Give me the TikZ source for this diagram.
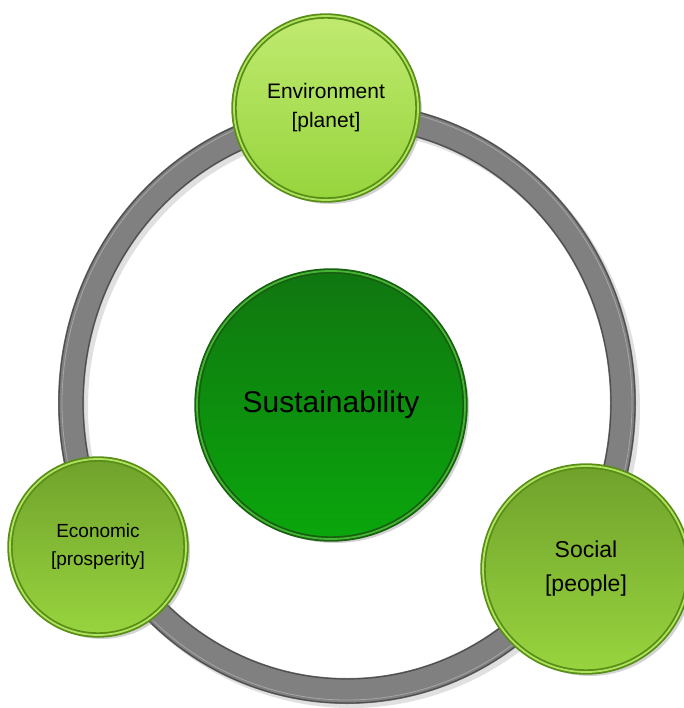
\documentclass[tikz,border=0pt]{standalone}
\usepackage{fontspec}
\setmainfont{Liberation Sans}
\usetikzlibrary{shadows}

\definecolor{ringgray}{RGB}{128,128,128}
\definecolor{ringedge}{RGB}{78,78,78}
\definecolor{envtop}{RGB}{192,234,112}
\definecolor{envbot}{RGB}{150,212,60}
\definecolor{sidetop}{RGB}{112,162,44}
\definecolor{sidebot}{RGB}{152,212,62}
\definecolor{limerim}{RGB}{88,142,22}
\definecolor{limeglow}{RGB}{176,226,96}
\definecolor{coretop}{RGB}{16,118,16}
\definecolor{corebot}{RGB}{10,166,12}
\definecolor{corerim}{RGB}{22,96,16}
\definecolor{coreglow}{RGB}{70,180,52}

\begin{document}
\begin{tikzpicture}[x=1pt, y=-1pt]

  % Styles
  \tikzset{
    disc/.style={circle, inner sep=0pt, align=center, text=black,
      draw=limerim, line width=1.8pt, double=limeglow, double distance=1.8pt,
      drop shadow={shadow xshift=4pt, shadow yshift=-4pt, opacity=0.35}},
    pillar/.style={disc, top color=sidetop, bottom color=sidebot,
      font=\fontsize{19}{28}\selectfont},
    core/.style={disc, draw=corerim, double=coreglow,
      top color=coretop, bottom color=corebot,
      font=\fontsize{30}{36}\selectfont}
  }

  \useasboundingbox (0,0) rectangle (683,708);

  % --- THE GREY RING ---
  \coordinate (ringc) at (347,403);
  \draw[line width=26pt, black!12] ([shift={(4,4)}]ringc) ellipse [x radius=276, y radius=288];
  \draw[line width=26pt, ringgray] (ringc) ellipse [x radius=276, y radius=288];
  \draw[line width=1.2pt, ringedge] (ringc) ellipse [x radius=288, y radius=300];
  \draw[line width=1.2pt, ringedge] (ringc) ellipse [x radius=264, y radius=276];
  \draw[line width=0.8pt, black!35] (ringc) ellipse [x radius=285, y radius=297];

  % --- CENTRE ---
  \node[core, minimum size=268pt] (sust) at (331,405) {Sustainability};

  % --- THE THREE PILLARS ---
  \node[pillar, minimum size=184pt, top color=envtop, bottom color=envbot,
    font=\fontsize{21}{29}\selectfont] (env) at (326,108) {Environment\\{}[planet]};
  \node[pillar, minimum size=176pt] (econ) at (98,547) {Economic\\{}[prosperity]};
  \node[pillar, minimum size=206pt, font=\fontsize{23}{34}\selectfont]
    (soc) at (586,569) {Social\\{}[people]};

\end{tikzpicture}
\end{document}
